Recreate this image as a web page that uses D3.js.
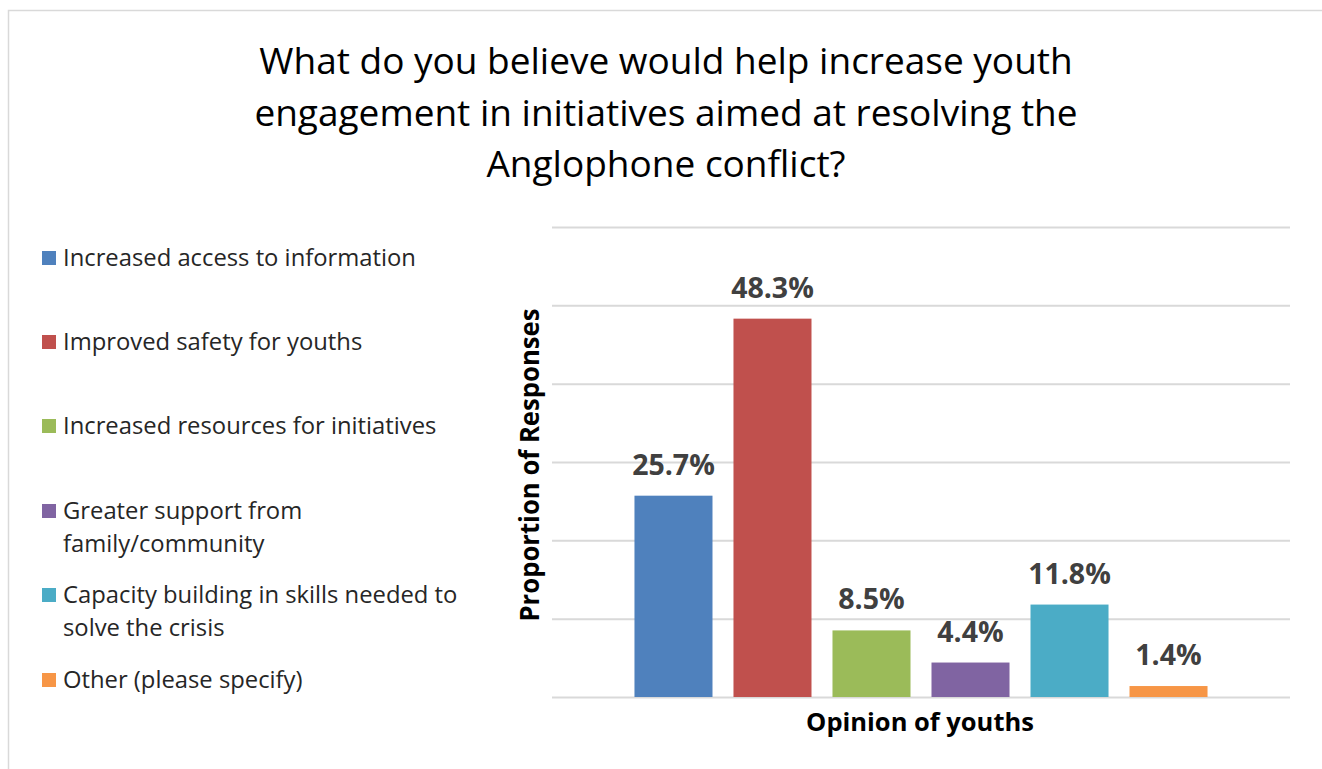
<!DOCTYPE html>
<html>
<head>
<meta charset="utf-8">
<script src="https://cdn.jsdelivr.net/npm/d3@7"></script>
<style>
  html, body { margin: 0; padding: 0; background: #ffffff; }
  svg { display: block; }
</style>
</head>
<body>
<svg id="chart" width="1322" height="769"></svg>
<script>
// Survey responses: what would raise youth engagement
const categories = [
  "Increased access to information",
  "Improved safety for youths",
  "Increased resources for initiatives",
  "Greater support from family/community",
  "Capacity building in skills needed to solve the crisis",
  "Other (please specify)"
];
const legendLines = [
  ["Increased access to information"],
  ["Improved safety for youths"],
  ["Increased resources for initiatives"],
  ["Greater support from", "family/community"],
  ["Capacity building in skills needed to", "solve the crisis"],
  ["Other (please specify)"]
];
const values = [25.7, 48.3, 8.5, 4.4, 11.8, 1.4];
const colors = ["#4f81bd", "#c0504d", "#9bbb59", "#8064a2", "#4bacc6", "#f79646"];
const gridTicks = [0, 10, 20, 30, 40, 50, 60];
const titleLines = [
  "What do you believe would help increase youth",
  "engagement in initiatives aimed at resolving the",
  "Anglophone conflict?"
];

const svg = d3.select("#chart");
const font = "'Open Sans', sans-serif";

// Outer chart frame
svg.append("path")
  .attr("d", "M8.5,769 L8.5,10.5 L1322,10.5")
  .attr("fill", "none")
  .attr("stroke", "#d9d9d9")
  .attr("stroke-width", 1.5);

// Title
svg.append("g").selectAll("text")
  .data(titleLines)
  .join("text")
  .attr("x", 666)
  .attr("y", (d, i) => 74 + i * 51.5)
  .attr("text-anchor", "middle")
  .attr("font-family", font)
  .attr("font-size", 37)
  .attr("fill", "#000")
  .text(d => d);

// Scales
const plot = { left: 552, right: 1290, top: 227, bottom: 697 };
const x = d3.scaleBand()
  .domain(categories)
  .range([plot.left, plot.right])
  .paddingInner(0.212)
  .paddingOuter(0.833);
const y = d3.scaleLinear()
  .domain([0, 60])
  .range([plot.bottom, plot.top]);

// Gridlines
svg.append("g")
  .attr("transform", `translate(${plot.left},0)`)
  .call(d3.axisLeft(y).tickValues(gridTicks).tickSize(-(plot.right - plot.left)).tickFormat(""))
  .call(g => g.select(".domain").remove())
  .call(g => g.selectAll(".tick line").attr("stroke", "#d9d9d9").attr("stroke-width", 2));

// Bars
svg.append("g").selectAll("rect")
  .data(values)
  .join("rect")
  .attr("x", (d, i) => x(categories[i]))
  .attr("width", x.bandwidth())
  .attr("y", d => y(d))
  .attr("height", d => y(0) - y(d))
  .attr("fill", (d, i) => colors[i]);

// Value labels
svg.append("g").selectAll("text")
  .data(values)
  .join("text")
  .attr("x", (d, i) => x(categories[i]) + x.bandwidth() / 2)
  .attr("y", d => y(d) - 21)
  .attr("text-anchor", "middle")
  .attr("font-family", font)
  .attr("font-weight", 700)
  .attr("font-size", 28.5)
  .attr("fill", "#404040")
  .text(d => d.toFixed(1) + "%");

// Axis titles
svg.append("text")
  .attr("transform", `translate(539,465) rotate(-90)`)
  .attr("text-anchor", "middle")
  .attr("font-family", font)
  .attr("font-weight", 700)
  .attr("font-size", 26)
  .attr("textLength", 313)
  .attr("lengthAdjust", "spacingAndGlyphs")
  .attr("fill", "#000")
  .text("Proportion of Responses");

svg.append("text")
  .attr("x", 920)
  .attr("y", 731)
  .attr("text-anchor", "middle")
  .attr("font-family", font)
  .attr("font-weight", 700)
  .attr("font-size", 25.5)
  .attr("fill", "#000")
  .text("Opinion of youths");

// Legend
const legendTop = [266, 350, 434, 519, 603, 688];
const legend = svg.append("g").selectAll("g")
  .data(categories)
  .join("g")
  .attr("transform", (d, i) => `translate(42,${legendTop[i]})`);
legend.append("rect")
  .attr("x", 0)
  .attr("y", -15)
  .attr("width", 14)
  .attr("height", 14)
  .attr("fill", (d, i) => colors[i]);
legend.append("text")
  .attr("font-family", font)
  .attr("font-size", 23.8)
  .attr("fill", "#262626")
  .selectAll("tspan")
  .data((d, i) => legendLines[i])
  .join("tspan")
  .attr("x", 21)
  .attr("y", (d, j) => j * 33)
  .text(d => d);
</script>
</body>
</html>
